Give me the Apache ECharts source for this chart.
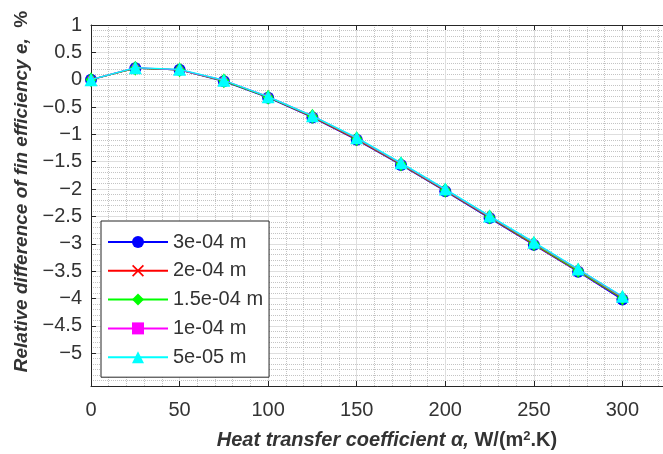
<!DOCTYPE html>
<html>
<head>
<meta charset="utf-8">
<script src="https://cdn.jsdelivr.net/npm/echarts@6/dist/echarts.min.js"></script>
<style>html,body{margin:0;padding:0;background:#fff}#c{width:663px;height:454px}</style>
</head>
<body>
<div id="c"></div>
<script>
// Heat transfer coefficient (x)
const alphaValues = [0, 25, 50, 75, 100, 125, 150, 175, 200, 225, 250, 275, 300];
// Relative difference of fin efficiency e, % for each fin thickness
const e_3e04  = [0, 0.21, 0.18, -0.03, -0.33, -0.69, -1.10, -1.56, -2.04, -2.53, -3.02, -3.51, -4.02];
const e_2e04  = [0, 0.21, 0.18, -0.02, -0.32, -0.68, -1.09, -1.55, -2.03, -2.52, -3.01, -3.50, -4.00];
const e_15e04 = [0, 0.21, 0.18, -0.02, -0.32, -0.67, -1.08, -1.54, -2.02, -2.51, -3.00, -3.49, -3.99];
const e_1e04  = [0, 0.22, 0.18, -0.01, -0.31, -0.66, -1.07, -1.53, -2.01, -2.50, -2.98, -3.47, -3.97];
const e_5e05  = [0, 0.22, 0.19, -0.01, -0.31, -0.66, -1.06, -1.52, -2.00, -2.49, -2.97, -3.46, -3.96];
const seriesNames = ['3e-04 m', '2e-04 m', '1.5e-04 m', '1e-04 m', '5e-05 m'];
// Tick labels
const yTicks = [-5, -4.5, -4, -3.5, -3, -2.5, -2, -1.5, -1, -0.5, 0, 0.5, 1];
const xTicks = [0, 50, 100, 150, 200, 250, 300];

const FONT = '"Liberation Sans", Arial, sans-serif';
const TXT = '#333333';
const AX = '#262626';

const seriesData = [e_3e04, e_2e04, e_15e04, e_1e04, e_5e05];
const colors = ['#0000ff', '#ff0000', '#00ff00', '#ff00ff', '#00ffff'];
const symbols = ['circle',
  'path://M0,1L1,0L5,4L9,0L10,1L6,5L10,9L9,10L5,6L1,10L0,9L4,5Z',
  'diamond', 'rect', 'triangle'];
const sizes = [12, 7, [11, 15], 6, 13];

const chart = echarts.init(document.getElementById('c'), null, {renderer: 'canvas'});
const option = {
  backgroundColor: '#ffffff',
  animation: false,
  grid: {left: 91, top: 25, width: 620, height: 361, show: false,
    outerBoundsMode: 'none', containLabel: false},
  xAxis: [{
    type: 'value', min: 0, max: 350, interval: 50, position: 'bottom',
    axisLine: {show: true, onZero: false, lineStyle: {color: AX, width: 1}},
    axisTick: {show: true, inside: true, length: 5, lineStyle: {color: AX}},
    axisLabel: {show: true, fontSize: 20, color: TXT, fontFamily: FONT, margin: 14,
      formatter: v => (xTicks.indexOf(v) >= 0 ? String(v) : '')},
    splitLine: {show: true, lineStyle: {color: '#dedede', width: 1}},
    minorTick: {show: false, splitNumber: 5},
    minorSplitLine: {show: true, lineStyle: {color: '#c4c4c4', type: 'dotted', width: 1}},
    name: '{i|Heat transfer coefficient α,} {n|W/(m}{s|2}{n|.K)}',
    nameLocation: 'middle', nameGap: 44,
    nameTextStyle: {fontSize: 20, fontWeight: 'bold', color: TXT, fontFamily: FONT,
      padding: [0, 28, 0, 0],
      rich: {
        i: {fontSize: 20, fontWeight: 'bold', fontStyle: 'italic', color: TXT, fontFamily: FONT},
        n: {fontSize: 20, fontWeight: 'bold', color: TXT, fontFamily: FONT},
        s: {fontSize: 13, fontWeight: 'bold', color: TXT, fontFamily: FONT, verticalAlign: 'top'}
      }}
  }, {
    type: 'value', min: 0, max: 350, interval: 50, position: 'top',
    axisLine: {show: true, onZero: false, lineStyle: {color: AX, width: 1}},
    axisTick: {show: true, inside: true, length: 5, lineStyle: {color: AX}},
    axisLabel: {show: false}, splitLine: {show: false}
  }],
  yAxis: [{
    type: 'value', min: -5.6, max: 1, interval: 0.1,
    axisLine: {show: true, onZero: false, lineStyle: {color: AX, width: 1}},
    axisTick: {show: true, inside: true, length: 5, lineStyle: {color: AX}, customValues: yTicks},
    axisLabel: {show: true, fontSize: 20, color: TXT, fontFamily: FONT, margin: 9, customValues: yTicks,
      formatter: v => String(v).replace('-', '\u2212')},
    splitLine: {show: true, lineStyle: {color: '#dedede', width: 1}},
    name: '{i|Relative difference of fin efficiency e,}  {n|%}',
    nameLocation: 'middle', nameGap: 56,
    nameTextStyle: {fontSize: 19, fontWeight: 'bold', color: TXT, fontFamily: FONT,
      padding: [0, 0, 0, 28],
      rich: {
        i: {fontSize: 19, fontWeight: 'bold', fontStyle: 'italic', color: TXT, fontFamily: FONT},
        n: {fontSize: 19, fontWeight: 'bold', color: TXT, fontFamily: FONT}
      }}
  }, {
    type: 'value', min: -5.6, max: 1, interval: 0.1, position: 'left', z: -1,
    axisLine: {show: false}, axisTick: {show: false}, axisLabel: {show: false},
    splitLine: {show: true, lineStyle: {color: '#c4c4c4', type: 'dotted', width: 1}}
  }],
  legend: {
    orient: 'vertical', left: 101, top: 221,
    padding: [11, 6, 10, 6], itemGap: 8.8, itemWidth: 60, itemHeight: 15,
    backgroundColor: '#ffffff', borderColor: AX, borderWidth: 1, borderRadius: 0,
    textStyle: {fontSize: 20, lineHeight: 20, color: TXT, fontFamily: FONT},
    data: seriesNames
  },
  series: seriesNames.map((name, i) => ({
    name: name, type: 'line',
    data: alphaValues.map((x, j) => [x, seriesData[i][j]]),
    symbol: symbols[i], symbolSize: sizes[i], showAllSymbol: true,
    lineStyle: {color: colors[i], width: 1.3},
    itemStyle: {color: colors[i]},
    xAxisIndex: 0, yAxisIndex: 0, z: 3 + i
  }))
};
chart.setOption(option);
</script>
</body>
</html>
